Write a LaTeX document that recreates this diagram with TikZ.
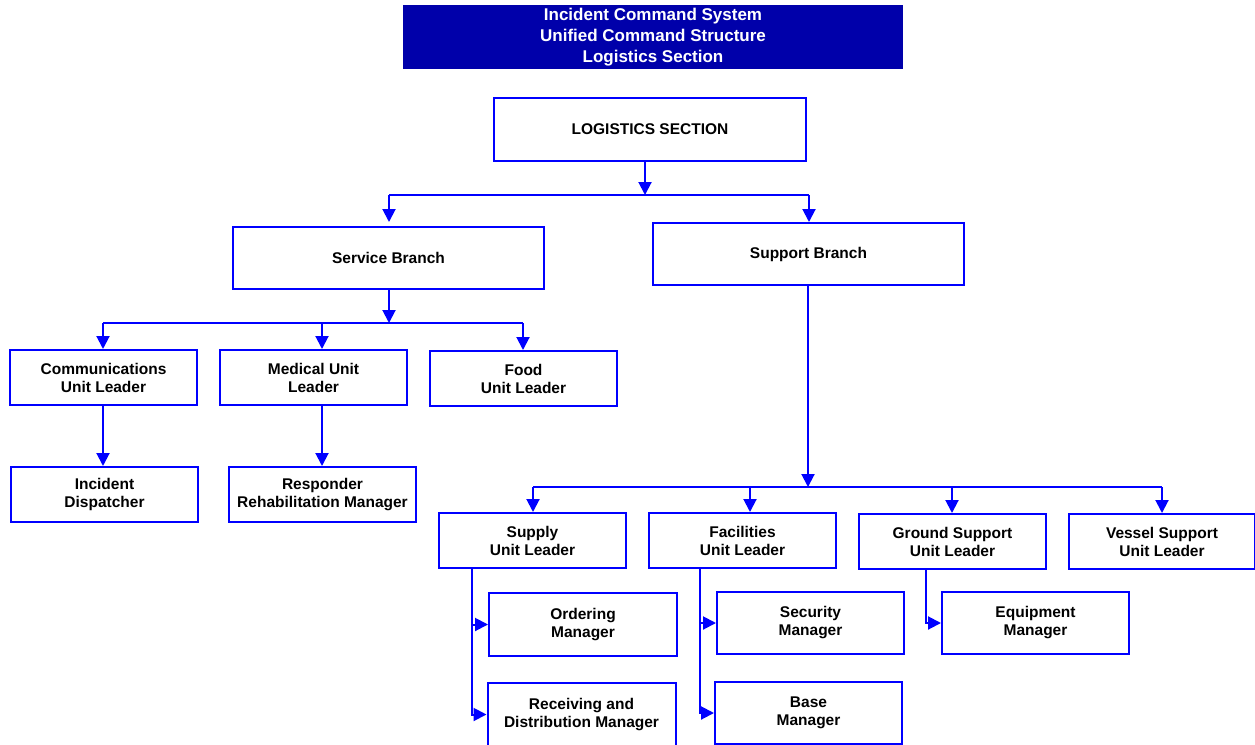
\documentclass[tikz,border=0pt]{standalone}
\usepackage{fontspec}
\setmainfont{Liberation Sans}
\usetikzlibrary{arrows.meta}
\definecolor{lnblue}{RGB}{0,0,255}
\definecolor{ttlblue}{RGB}{0,0,170}
\begin{document}
\begin{tikzpicture}[x=1pt,y=-1pt,
  box/.style={draw=lnblue,line width=2pt,fill=white,align=center,inner sep=2pt,
    font=\fontsize{15.5}{18}\selectfont\bfseries,minimum width=187pt,minimum height=55pt},
  conn/.style={draw=lnblue,line width=2pt},
  arr/.style={conn,-{Triangle[length=13pt 0 0,width=13pt 0 0]}}]
\useasboundingbox (0,0) rectangle (1255,744);
% title
\node[fill=ttlblue,text=white,align=center,minimum width=500pt,minimum height=64pt,inner sep=0pt,
  font=\fontsize{17}{21}\selectfont\bfseries] (title) at (653,37)
  {Incident Command System\\Unified Command Structure\\Logistics Section};
% boxes
\node[box,minimum width=312pt,minimum height=63pt] (log) at (650,129.5) {LOGISTICS SECTION};
\node[box,minimum width=311pt,minimum height=62pt] (serv) at (388.5,258) {Service Branch};
\node[box,minimum width=311pt,minimum height=62pt] (supp) at (808.5,254) {Support Branch};
\node[box] (comm) at (103.5,377.5) {Communications\\Unit Leader};
\node[box] (med) at (313.5,377.5) {Medical Unit\\Leader};
\node[box] (food) at (523.5,378.5) {Food\\Unit Leader};
\node[box] (disp) at (104.5,494.5) {Incident\\Dispatcher};
\node[box] (resp) at (322.5,494.5) {Responder\\Rehabilitation Manager};
\node[box] (supply) at (532.5,540.5) {Supply\\Unit Leader};
\node[box] (fac) at (742.5,540.5) {Facilities\\Unit Leader};
\node[box] (ground) at (952.5,541.5) {Ground Support\\Unit Leader};
\node[box,minimum width=186pt] (vessel) at (1162,541.5) {Vessel Support\\Unit Leader};
\node[box,minimum width=188pt,minimum height=63pt] (order) at (583,624.5) {Ordering\\Manager};
\node[box,minimum width=188pt,minimum height=63pt] (recv) at (581.5,714.5) {Receiving and\\Distribution Manager};
\node[box,minimum height=62pt] (sec) at (810.5,623) {Security\\Manager};
\node[box,minimum height=62pt] (base) at (808.5,713) {Base\\Manager};
\node[box,minimum height=62pt] (equip) at (1035.5,623) {Equipment\\Manager};
% level 1 connectors
\coordinate (b1) at (645,195);
\coordinate (b1l) at (389,195);
\coordinate (b1r) at (809,195);
\coordinate (t1l) at (389,222);
\coordinate (t1r) at (809,222);
\draw[arr] (log.south -| b1) -- (b1);
\draw[conn] (b1l) -- (b1r);
\draw[arr] (b1l) -- (t1l);
\draw[arr] (b1r) -- (t1r);
% service branch
\coordinate (b2) at (389,323);
\coordinate (b2l) at (103,323);
\coordinate (b2m) at (322,323);
\coordinate (b2r) at (523,323);
\draw[arr] (serv.south -| b2) -- (b2);
\draw[conn] (b2l) -- (b2r);
\draw[arr] (b2l) -- (b2l |- comm.north);
\draw[arr] (b2m) -- (b2m |- med.north);
\draw[arr] (b2r) -- (b2r |- food.north);
\draw[arr] (comm.south -| b2l) -- (b2l |- disp.north);
\draw[arr] (med.south -| b2m) -- (b2m |- resp.north);
% support branch
\coordinate (b3) at (808,487);
\coordinate (b3a) at (533,487);
\coordinate (b3b) at (750,487);
\coordinate (b3c) at (952,487);
\coordinate (b3d) at (1162,487);
\draw[arr] (supp.south -| b3) -- (b3);
\draw[conn] (b3a) -- (b3d);
\draw[arr] (b3a) -- (b3a |- supply.north);
\draw[arr] (b3b) -- (b3b |- fac.north);
\draw[arr] (b3c) -- (b3c |- ground.north);
\draw[arr] (b3d) -- (b3d |- vessel.north);
% side connectors
\coordinate (s1) at (472,568);
\coordinate (s2) at (700,568);
\coordinate (s3) at (926,569);
\draw[arr] (supply.south -| s1) |- (order.west);
\draw[arr] (supply.south -| s1) |- (recv.west);
\draw[arr] (fac.south -| s2) |- (sec.west);
\draw[arr] (fac.south -| s2) |- (base.west);
\draw[arr] (ground.south -| s3) |- (equip.west);
\end{tikzpicture}
\end{document}
